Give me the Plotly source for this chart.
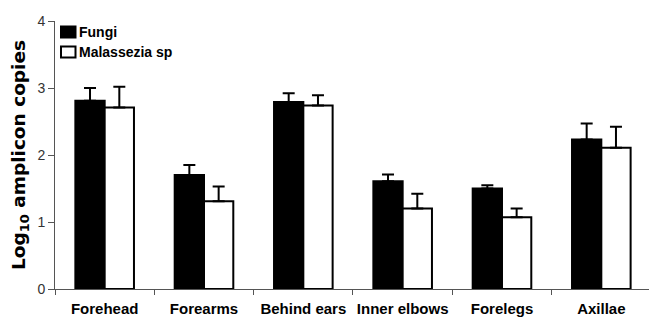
import plotly.graph_objects as go

categories = ["Forehead", "Forearms", "Behind ears", "Inner elbows", "Forelegs", "Axillae"]
fungi = [2.81, 1.70, 2.79, 1.61, 1.50, 2.23]
fungi_err = [0.19, 0.15, 0.13, 0.10, 0.05, 0.24]
malassezia = [2.71, 1.31, 2.74, 1.20, 1.07, 2.11]
malassezia_err = [0.31, 0.22, 0.15, 0.22, 0.13, 0.31]
y_ticks = [0, 1, 2, 3, 4]
series_names = ["Fungi", "Malassezia sp"]
series_fill = ["black", "white"]

FONT = "Liberation Sans, Arial, sans-serif"
W, H = 649, 318
L, R, T, B = 55, 0, 21, 29
PW, PH = W - L - R, H - T - B


def px_x(px):
    return (px - L) / PW


def px_y(py):
    return (H - B - py) / PH


fig = go.Figure()
for name, vals, errs, fill in zip(series_names, [fungi, malassezia],
                                  [fungi_err, malassezia_err], series_fill):
    fig.add_trace(go.Bar(
        name=name, x=categories, y=vals, showlegend=False,
        marker=dict(color=fill, line=dict(color="black", width=2)),
        error_y=dict(type="data", symmetric=False, array=errs,
                     arrayminus=[0] * len(errs), color="black",
                     thickness=2, width=6),
    ))

# legend drawn by hand to match the compact original layout
legend_rows = [(26.5, 37.5, 32), (46.5, 57.5, 51.5)]
for (y0, y1, yc), name, fill in zip(legend_rows, series_names, series_fill):
    fig.add_shape(type="rect", xref="paper", yref="paper",
                  x0=px_x(61), x1=px_x(75.5), y0=px_y(y1), y1=px_y(y0),
                  fillcolor=fill, line=dict(color="black", width=2))
    fig.add_annotation(xref="paper", yref="paper", x=px_x(76.5), y=px_y(yc),
                       xanchor="left", yanchor="middle", showarrow=False,
                       text=name,
                       font=dict(family=FONT, size=14, color="black", weight="bold"))

fig.update_layout(
    width=W, height=H,
    margin=dict(l=L, r=R, t=T, b=B, autoexpand=False),
    paper_bgcolor="white", plot_bgcolor="white",
    barmode="group", bargap=0.41, bargroupgap=0,
    font=dict(family=FONT, color="black"),
    showlegend=False,
    xaxis=dict(
        type="category", range=[-0.5, 5.48],
        showline=True, linecolor="#555", linewidth=1,
        ticks="outside", tickson="boundaries", ticklen=5, tickcolor="#555",
        tickangle=0, ticklabelstandoff=6,
        tickfont=dict(family=FONT, size=15, color="black", weight="bold"),
        showgrid=False, zeroline=False, automargin=False,
    ),
    yaxis=dict(
        range=[0, 4], tickmode="array", tickvals=y_ticks,
        ticktext=[str(v) for v in y_ticks],
        showline=True, linecolor="#555", linewidth=1,
        ticks="outside", ticklen=6, tickcolor="#555",
        tickfont=dict(family=FONT, size=14, color="#333"),
        showgrid=False, zeroline=False, automargin=False,
        title=dict(text="Log<sub>10</sub> amplicon copies", standoff=6,
                   font=dict(family="DejaVu Sans, sans-serif", size=18.5,
                             color="black", weight="bold")),
    ),
)

fig.write_html("out.html", config={"displayModeBar": False},
               post_script="document.body.style.margin='0px';")
